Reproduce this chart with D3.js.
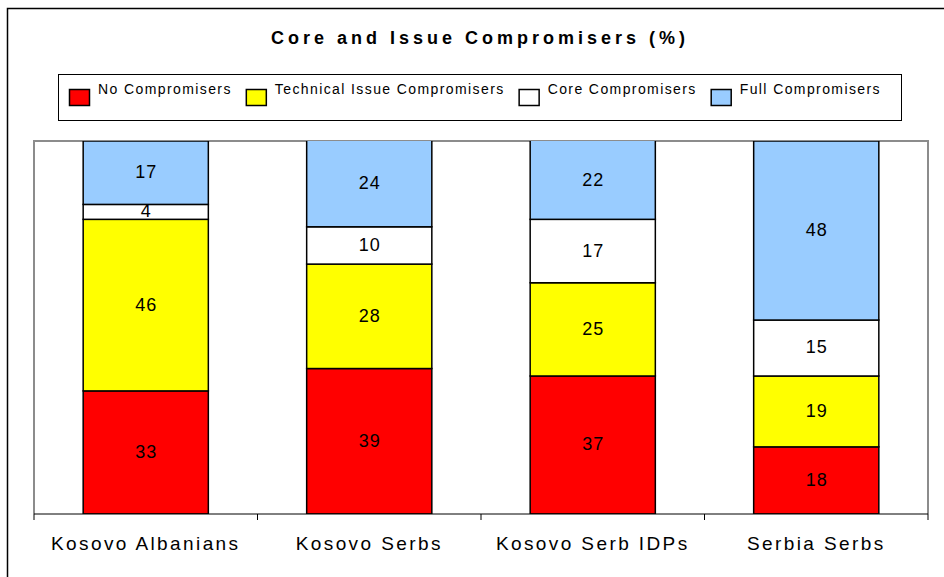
<!DOCTYPE html>
<html>
<head>
<meta charset="utf-8">
<script src="https://cdn.jsdelivr.net/npm/d3@7"></script>
<style>
  body { margin: 0; background: #fff; }
  svg { display: block; font-family: Arial, "Liberation Sans", sans-serif; }
</style>
</head>
<body>
<svg></svg>
<script>
const width = 944;
const height = 577;

// data
const categories = ["Kosovo Albanians", "Kosovo Serbs", "Kosovo Serb IDPs", "Serbia Serbs"];
const seriesNames = ["No Compromisers", "Technical Issue Compromisers", "Core Compromisers", "Full Compromisers"];
const seriesColors = ["#ff0000", "#ffff00", "#ffffff", "#99ccff"];
const noCompromisers = [33, 39, 37, 18];
const technicalCompromisers = [46, 28, 25, 19];
const coreCompromisers = [4, 10, 17, 15];
const fullCompromisers = [17, 24, 22, 48];

const svg = d3.select("svg").attr("width", width).attr("height", height);

// outer frame (only top and left edges show)
svg.append("path")
  .attr("d", `M7.5,${height} V8.5 H${width}`)
  .attr("fill", "none")
  .attr("stroke", "#000")
  .attr("stroke-width", 1.5);

svg.append("text")
  .attr("x", 480)
  .attr("y", 44)
  .attr("text-anchor", "middle")
  .style("font-size", "18px")
  .style("font-weight", "bold")
  .style("letter-spacing", "4px")
  .text("Core and Issue Compromisers (%)");

// legend
const legend = svg.append("g");
legend.append("rect")
  .attr("x", 58.5).attr("y", 74.5)
  .attr("width", 843).attr("height", 46)
  .attr("fill", "#fff").attr("stroke", "#000").attr("stroke-width", 1);

let lx = 69;
seriesNames.forEach((name, i) => {
  const item = legend.append("g").attr("transform", `translate(${lx},0)`);
  item.append("rect")
    .attr("x", 0.5).attr("y", 89.5)
    .attr("width", 20).attr("height", 16)
    .attr("fill", seriesColors[i])
    .attr("stroke", "#000").attr("stroke-width", 1.5);
  const t = item.append("text")
    .attr("x", 29).attr("y", 94)
    .style("font-size", "14px")
    .style("letter-spacing", "1.4px")
    .text(name);
  lx += 29 + t.node().getComputedTextLength() + 14;
});

// plot area
const plot = { left: 34, right: 928, top: 141, bottom: 514 };

const x = d3.scaleBand()
  .domain(categories)
  .range([plot.left, plot.right])
  .padding(0);
const barWidth = x.bandwidth() * 0.56;

const y = d3.scaleLinear()
  .domain([0, 100])
  .range([plot.bottom, plot.top]);

const values = [noCompromisers, technicalCompromisers, coreCompromisers, fullCompromisers];
const table = categories.map((c, j) => {
  const row = { category: c };
  seriesNames.forEach((s, i) => { row[s] = values[i][j]; });
  return row;
});
const stacked = d3.stack().keys(seriesNames)(table);

svg.append("defs").append("clipPath").attr("id", "plotClip")
  .append("rect")
  .attr("x", plot.left).attr("y", plot.top)
  .attr("width", plot.right - plot.left).attr("height", plot.bottom - plot.top);

// plot border (grey)
svg.append("path")
  .attr("d", `M${plot.left},${plot.bottom} V${plot.top} H${plot.right} V${plot.bottom}`)
  .attr("fill", "none")
  .attr("stroke", "#8c8c8c")
  .attr("stroke-width", 2);

const bars = svg.append("g").attr("clip-path", "url(#plotClip)");
stacked.forEach((layer, i) => {
  bars.selectAll(null)
    .data(layer)
    .join("rect")
    .attr("x", d => x(d.data.category) + (x.bandwidth() - barWidth) / 2)
    .attr("y", d => y(d[1]))
    .attr("width", barWidth)
    .attr("height", d => y(d[0]) - y(d[1]))
    .attr("fill", seriesColors[i])
    .attr("stroke", "#000")
    .attr("stroke-width", 1.5);
});

// value labels, centred in the visible part of each segment
const labels = svg.append("g")
  .attr("text-anchor", "middle")
  .style("font-size", "18px")
  .style("letter-spacing", "1px");
stacked.forEach(layer => {
  labels.selectAll(null)
    .data(layer)
    .join("text")
    .attr("x", d => x(d.data.category) + x.bandwidth() / 2 + 0.5)
    .attr("y", d => (y(d[0]) + Math.max(y(d[1]), plot.top)) / 2 - 1)
    .attr("dy", "0.36em")
    .attr("fill", "#000")
    .text(d => d[1] - d[0]);
});

// x axis
const axis = svg.append("g").attr("transform", `translate(0,${plot.bottom})`);
axis.append("line")
  .attr("x1", plot.left).attr("x2", plot.right)
  .attr("stroke", "#000").attr("stroke-width", 1);
const edges = categories.map(c => x(c)).concat([plot.right]);
axis.selectAll(null)
  .data(edges)
  .join("line")
  .attr("x1", d => d).attr("x2", d => d)
  .attr("y1", 0).attr("y2", 6)
  .attr("stroke", "#000");
axis.selectAll(null)
  .data(categories)
  .join("text")
  .attr("x", d => x(d) + x.bandwidth() / 2)
  .attr("y", 36)
  .attr("text-anchor", "middle")
  .style("font-size", "19px")
  .style("letter-spacing", "2.4px")
  .text(d => d);
</script>
</body>
</html>
